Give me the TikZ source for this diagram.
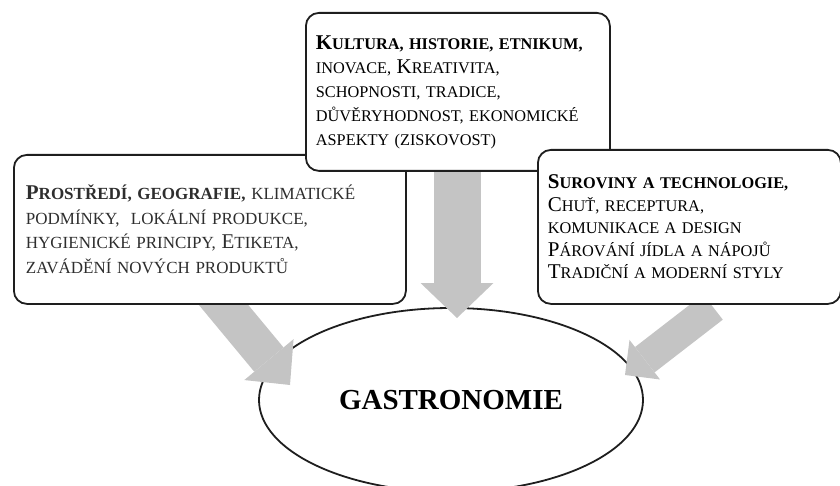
\documentclass[tikz,border=0pt]{standalone}
\usepackage{fontspec}
\setmainfont{Liberation Serif}
\usetikzlibrary{shapes.geometric}
\usetikzlibrary{arrows.meta}
\definecolor{arrowgray}{RGB}{196,196,196}
\definecolor{boxline}{RGB}{30,30,30}
\tikzstyle{infobox} = [draw=boxline,line width=1.8pt,rounded corners=13pt,fill=white,anchor=north west,align=left,inner xsep=10pt,font=\fontsize{16.3}{24}\selectfont]
\tikzstyle{bigarrow} = [arrowgray]
\newcommand{\Ini}[1]{{\fontsize{21}{24}\selectfont #1}}

\begin{document}
\begin{tikzpicture}[x=1pt,y=-1pt]
  \useasboundingbox (0,0) rectangle (840,486);
  \node (gastro) [draw=boxline,line width=1.8pt,ellipse,minimum width=384pt,minimum height=184pt,inner sep=0pt,font=\fontsize{29}{30}\selectfont\bfseries] at (451,400) {GASTRONOMIE};

  \coordinate (kfrom) at (457,165);
  \coordinate (kto) at (457,318);
  \coordinate (pfrom) at (207,285);
  \coordinate (pto) at (290,385);
  \coordinate (sfrom) at (713,307);
  \coordinate (sto) at (625,375);
  \draw[bigarrow,line width=47pt,-{Triangle[width=73pt,length=35pt,line width=0pt]}] (kfrom) -- (kto);
  \draw[bigarrow,line width=38pt,-{Triangle[width=64pt,length=33pt,line width=0pt]}] (pfrom) -- (pto);
  \draw[bigarrow,line width=32pt,-{Triangle[width=50pt,length=25pt,line width=0pt]}] (sfrom) -- (sto);

  \node (prostredi) [infobox,minimum width=392pt,minimum height=149pt,text width=368pt,text=black!82,font=\fontsize{17}{24.5}\selectfont] at (13,154)
    {{\bfseries\Ini{P}ROSTŘEDÍ, GEOGRAFIE,} KLIMATICKÉ\\
     PODMÍNKY, \ LOKÁLNÍ PRODUKCE,\\
     HYGIENICKÉ PRINCIPY, \Ini{E}TIKETA,\\
     ZAVÁDĚNÍ NOVÝCH PRODUKTŮ};
  \node (kultura) [infobox,minimum width=304pt,minimum height=158pt,text width=284pt] at (305,12)
    {{\bfseries\Ini{K}ULTURA, HISTORIE, ETNIKUM,}\\
     INOVACE, \Ini{K}REATIVITA,\\
     SCHOPNOSTI, TRADICE,\\
     DŮVĚRYHODNOST, EKONOMICKÉ\\
     ASPEKTY (ZISKOVOST)};
  \node (suroviny) [infobox,minimum width=299pt,minimum height=154pt,text width=283pt,font=\fontsize{16.3}{22.5}\selectfont] at (537,149)
    {{\bfseries\Ini{S}UROVINY A TECHNOLOGIE,}\\
     \Ini{C}HUŤ, RECEPTURA,\\
     KOMUNIKACE A DESIGN\\
     \Ini{P}ÁROVÁNÍ JÍDLA A NÁPOJŮ\\
     \Ini{T}RADIČNÍ A MODERNÍ STYLY};
\end{tikzpicture}
\end{document}
